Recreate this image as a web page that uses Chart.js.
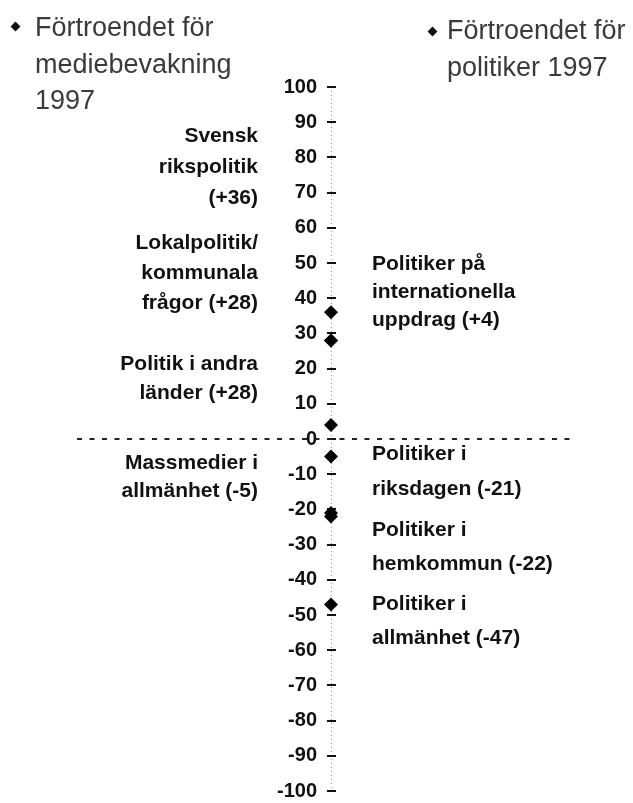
<!DOCTYPE html>
<html>
<head>
<meta charset="utf-8">
<script src="https://cdn.jsdelivr.net/npm/chart.js@4/dist/chart.umd.min.js"></script>
<style>
  html, body { margin: 0; padding: 0; background: #fff; }
  #wrap { position: relative; width: 633px; height: 803px; overflow: hidden; }
  #c { position: absolute; left: 0; top: 0; }
  .lbl { position: absolute; font-family: "Liberation Sans", Arial, sans-serif; font-weight: bold; font-size: 21px; color: #111; white-space: pre; }
  .lbl.left { text-align: right; }
  .lbl.right { text-align: left; }
  .leg { position: absolute; font-family: "Liberation Sans", Arial, sans-serif; font-size: 27px; color: #3a3a3a; width: 200px; }
  .mk { position: absolute; width: 7px; height: 7px; background: #111; transform: rotate(45deg); }
</style>
</head>
<body>
<div id="wrap">
  <canvas id="c" width="633" height="803"></canvas>
</div>
<script>
// ---- data ----
const seriesNames = ["Förtroendet för mediebevakning 1997", "Förtroendet för politiker 1997"];
const mediaCategories = ["Svensk\nrikspolitik\n({v})", "Lokalpolitik/\nkommunala\nfrågor ({v})", "Politik i andra\nländer ({v})", "Massmedier i\nallmänhet ({v})"];
const mediaValues = [36, 28, 28, -5];
const politicianCategories = ["Politiker på\ninternationella\nuppdrag ({v})", "Politiker i\nriksdagen ({v})", "Politiker i\nhemkommun ({v})", "Politiker i\nallmänhet ({v})"];
const politicianValues = [4, -21, -22, -47];
const tickValues = [100, 90, 80, 70, 60, 50, 40, 30, 20, 10, 0, -10, -20, -30, -40, -50, -60, -70, -80, -90, -100];
const tickLabels = ["100", "90", "80", "70", "60", "50", "40", "30", "20", "10", "0", "-10", "-20", "-30", "-40", "-50", "-60", "-70", "-80", "-90", "-100"];

// ---- layout of annotation text (pixels) ----
const mediaLabelLayout = [
  { top: 119, lh: 31 }, { top: 227, lh: 30 }, { top: 348, lh: 29 }, { top: 448, lh: 28 }
];
const politicianLabelLayout = [
  { top: 249, lh: 28 }, { top: 435, lh: 35 }, { top: 512, lh: 34 }, { top: 586, lh: 34 }
];

const fmt = v => (v > 0 ? "+" + v : String(v));
const wrap = document.getElementById('wrap');

function addLabel(text, cls, lay, xStyle) {
  const d = document.createElement('div');
  d.className = 'lbl ' + cls;
  d.textContent = text;
  d.style.top = lay.top + 'px';
  d.style.lineHeight = lay.lh + 'px';
  Object.assign(d.style, xStyle);
  wrap.appendChild(d);
}
mediaCategories.forEach((c, i) => addLabel(c.replace('{v}', fmt(mediaValues[i])), 'left', mediaLabelLayout[i], { right: (633 - 258) + 'px' }));
politicianCategories.forEach((c, i) => addLabel(c.replace('{v}', fmt(politicianValues[i])), 'right', politicianLabelLayout[i], { left: '372px' }));

function addLegend(name, x, y, lh, mx, my) {
  const d = document.createElement('div');
  d.className = 'leg';
  d.textContent = name;
  d.style.left = x + 'px';
  d.style.top = y + 'px';
  d.style.lineHeight = lh + 'px';
  wrap.appendChild(d);
  const m = document.createElement('div');
  m.className = 'mk';
  m.style.left = (mx - 3.5) + 'px';
  m.style.top = (my - 3.5) + 'px';
  wrap.appendChild(m);
}
addLegend(seriesNames[0], 35, 9, 36.5, 15, 26);
addLegend(seriesNames[1], 447, 12, 37, 432, 31);

const axisDecor = {
  id: 'axisDecor',
  beforeDatasetsDraw(chart) {
    const { ctx, chartArea } = chart;
    const ys = chart.scales.y, xs = chart.scales.x;
    const ax = xs.getPixelForValue(0);
    ctx.save();
    // dotted vertical axis line
    ctx.strokeStyle = '#9a9a9a';
    ctx.lineWidth = 1;
    ctx.setLineDash([1, 3]);
    ctx.beginPath();
    ctx.moveTo(ax + 0.5, ys.getPixelForValue(100));
    ctx.lineTo(ax + 0.5, ys.getPixelForValue(-100));
    ctx.stroke();
    // tick dashes
    ctx.setLineDash([]);
    ctx.strokeStyle = '#111';
    ctx.lineWidth = 2;
    ys.ticks.forEach(t => {
      const y = Math.round(ys.getPixelForValue(t.value));
      ctx.beginPath();
      ctx.moveTo(ax - 4, y);
      ctx.lineTo(ax + 5, y);
      ctx.stroke();
    });
    // dashed zero line
    const y0 = Math.round(ys.getPixelForValue(0));
    ctx.strokeStyle = '#222';
    ctx.lineWidth = 2;
    ctx.setLineDash([5, 7.5]);
    ctx.beginPath();
    ctx.moveTo(chartArea.left, y0);
    ctx.lineTo(chartArea.right, y0);
    ctx.stroke();
    ctx.restore();
  }
};

new Chart(document.getElementById('c'), {
  type: 'scatter',
  data: {
    datasets: [
      {
        label: seriesNames[0],
        data: mediaValues.map(v => ({ x: 0, y: v })),
        pointStyle: 'rectRot', pointRadius: 7, pointHoverRadius: 7,
        backgroundColor: '#000', borderColor: '#000', borderWidth: 0
      },
      {
        label: seriesNames[1],
        data: politicianValues.map(v => ({ x: 0, y: v })),
        pointStyle: 'rectRot', pointRadius: 7, pointHoverRadius: 7,
        backgroundColor: '#000', borderColor: '#000', borderWidth: 0
      }
    ]
  },
  options: {
    responsive: false,
    animation: false,
    events: [],
    layout: { padding: { top: 87, bottom: 11, left: 77, right: 62 } },
    plugins: { legend: { display: false }, tooltip: { enabled: false } },
    scales: {
      x: { type: 'linear', min: -254, max: 240, display: false },
      y: {
        type: 'linear', min: -100, max: 100,
        position: { x: -14 },
        afterBuildTicks: s => { s.ticks = tickValues.map(v => ({ value: v })); },
        ticks: {
          autoSkip: false, padding: 0, color: '#111',
          font: { family: '"Liberation Sans", Arial, sans-serif', size: 20, weight: 'bold' },
          callback: v => tickLabels[tickValues.indexOf(v)]
        },
        grid: { display: false, drawTicks: false },
        border: { display: false }
      }
    }
  },
  plugins: [axisDecor]
});
</script>
</body>
</html>
